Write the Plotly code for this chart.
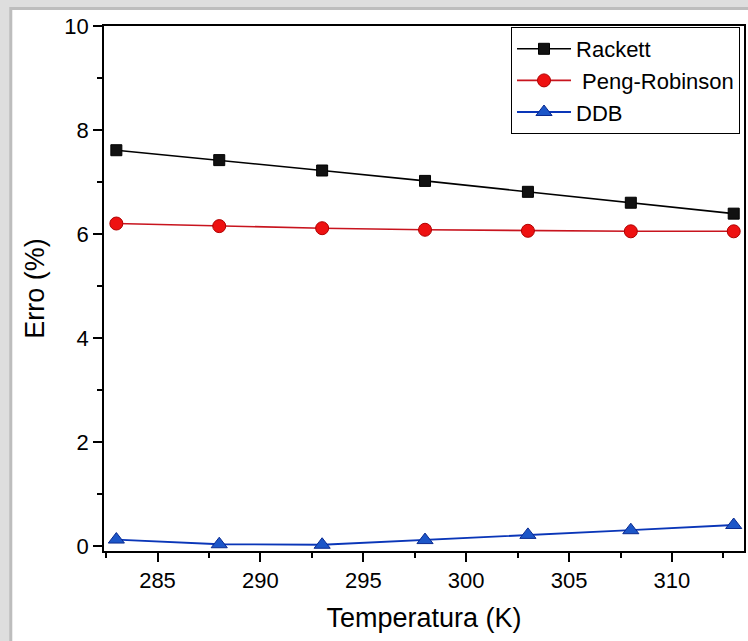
import plotly.graph_objects as go

temperatura = [283, 288, 293, 298, 303, 308, 313]
rackett = [7.61, 7.42, 7.22, 7.02, 6.81, 6.60, 6.39]
peng_robinson = [6.20, 6.15, 6.11, 6.08, 6.06, 6.05, 6.05]
ddb = [0.12, 0.03, 0.02, 0.11, 0.21, 0.30, 0.40]

W, H = 748, 641
ML, MR, MT, MB = 104, 2, 26, 90
pw = W - ML - MR
ph = H - MT - MB

def px_x(p):
    return (p - ML) / pw

def px_y(p):
    return (H - MB - p) / ph

fig = go.Figure()
fig.add_trace(go.Scatter(
    x=temperatura, y=rackett, name="Rackett", mode="lines+markers",
    line=dict(color="black", width=1.6),
    marker=dict(symbol="square", size=11, color="#111111", line=dict(color="#000000", width=1)),
))
fig.add_trace(go.Scatter(
    x=temperatura, y=peng_robinson, name="\u00a0Peng-Robinson", mode="lines+markers",
    line=dict(color="#c8141e", width=1.6),
    marker=dict(symbol="circle", size=13, color="#ee1111", line=dict(color="#b00000", width=1)),
))
fig.add_trace(go.Scatter(
    x=temperatura, y=ddb, name="DDB", mode="lines+markers",
    line=dict(color="#0a36b8", width=1.8),
    marker=dict(symbol="triangle-up", size=14, color="#1c56c8", line=dict(color="#0a2a90", width=1)),
))

shapes = [
    dict(type="rect", xref="paper", yref="paper", layer="below",
         x0=px_x(9), x1=px_x(W + 5), y0=px_y(H + 5), y1=px_y(7),
         fillcolor="#bdbdbd", line=dict(width=0)),
    dict(type="rect", xref="paper", yref="paper", layer="below",
         x0=px_x(12), x1=px_x(W + 5), y0=px_y(H + 5), y1=px_y(10),
         fillcolor="white", line=dict(width=0)),
]

fig.update_layout(
    width=W, height=H,
    margin=dict(l=ML, r=MR, t=MT, b=MB),
    paper_bgcolor="#dedede",
    plot_bgcolor="white",
    font=dict(family="Liberation Sans, Arial, sans-serif", color="black"),
    shapes=shapes,
    showlegend=True,
    legend=dict(
        x=px_x(742), xanchor="right", y=px_y(27), yanchor="top",
        bgcolor="white", bordercolor="black", borderwidth=1,
        font=dict(size=22, color="black"),
        itemwidth=54, tracegroupgap=0,
    ),
    xaxis=dict(
        range=[282.4, 313.5], dtick=5, tick0=285,
        showline=True, linecolor="black", linewidth=1.8, mirror=True,
        ticks="outside", ticklen=9, tickwidth=2, tickcolor="black",
        tickfont=dict(size=22),
        minor=dict(ticks="outside", dtick=2.5, tick0=282.5, ticklen=5, tickwidth=2, tickcolor="black", showgrid=False),
        showgrid=False, zeroline=False,
        title=dict(text="Temperatura (K)", font=dict(size=27), standoff=16),
    ),
    yaxis=dict(
        range=[-0.1, 10], dtick=2, tick0=0,
        showline=True, linecolor="black", linewidth=1.8, mirror=True,
        ticks="outside", ticklen=9, tickwidth=2, tickcolor="black",
        tickfont=dict(size=22),
        minor=dict(ticks="outside", dtick=1, tick0=0, ticklen=5, tickwidth=2, tickcolor="black", showgrid=False),
        showgrid=False, zeroline=False,
        title=dict(text="Erro (%)", font=dict(size=27), standoff=12),
    ),
)

fig.write_html("out.html")
